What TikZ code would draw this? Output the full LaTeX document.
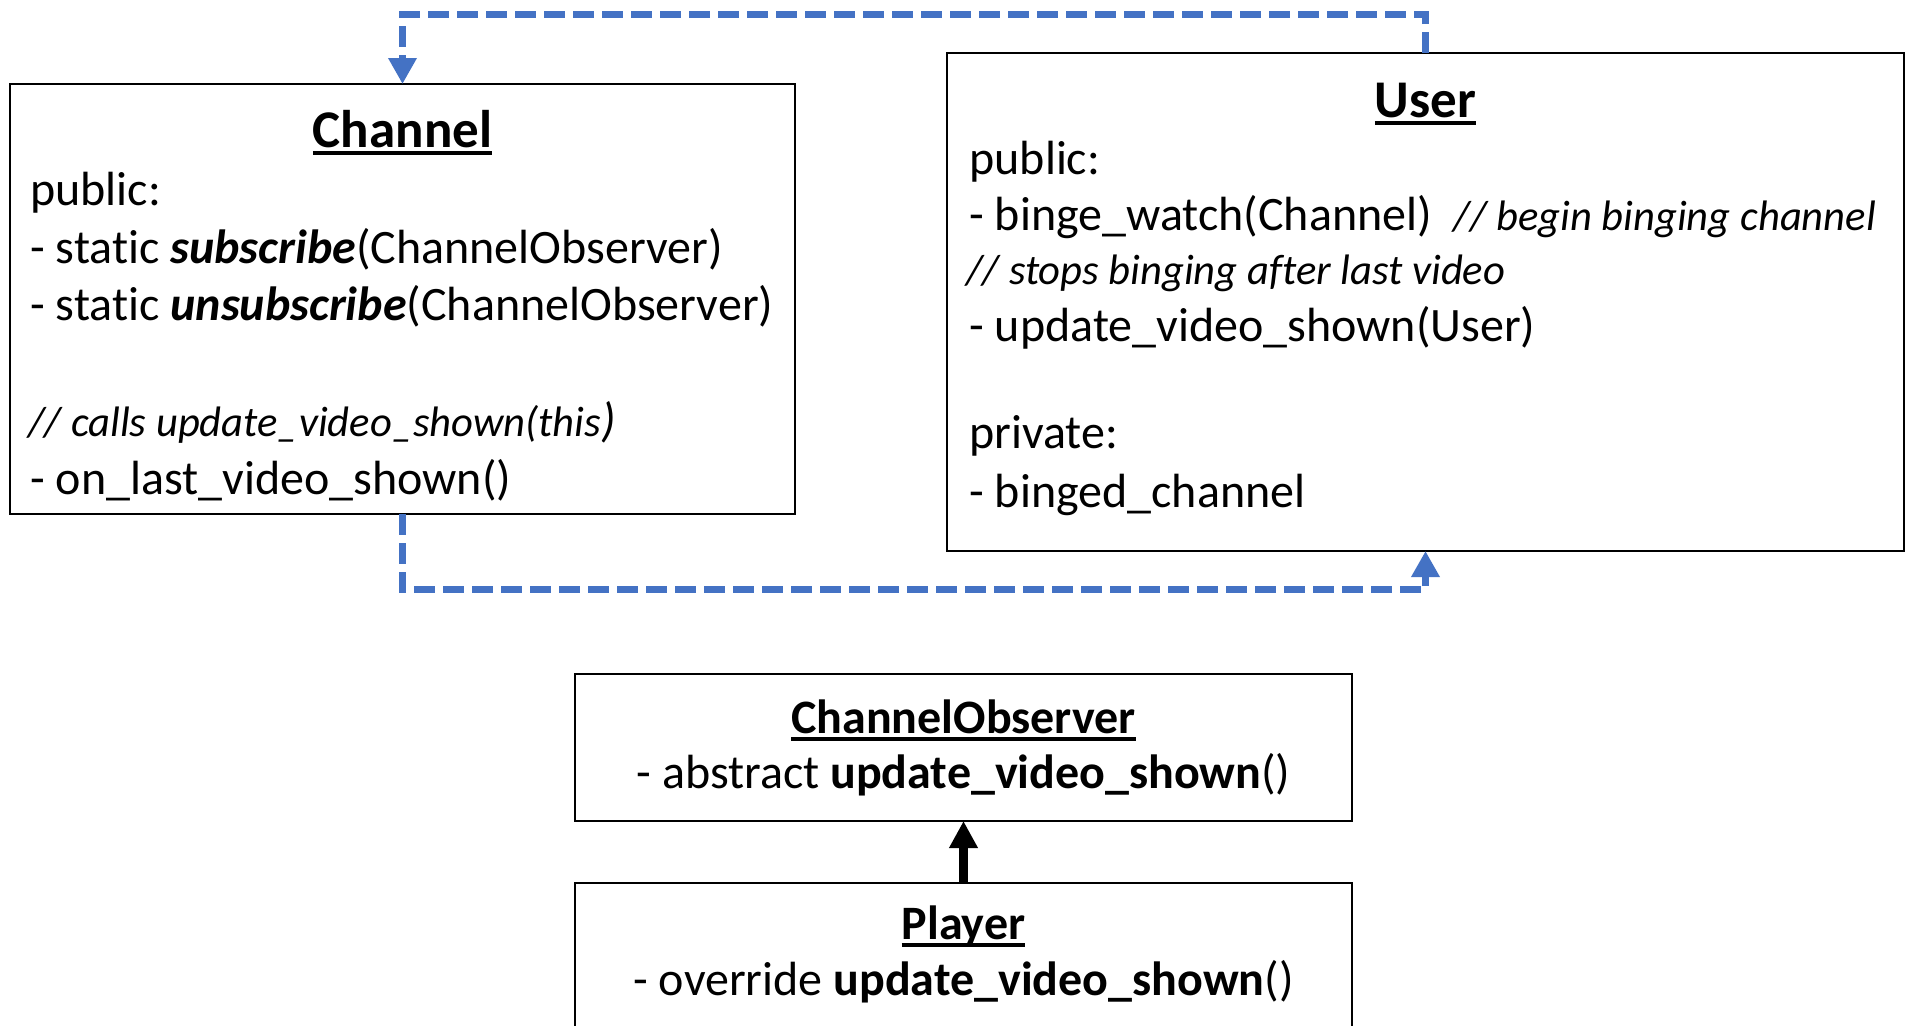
\documentclass[tikz,border=0pt]{standalone}
\usepackage{fontspec}
\setmainfont{Carlito}[Ligatures=NoCommon]
\definecolor{officeblue}{RGB}{68, 114, 196}
\usetikzlibrary{
  arrows.meta,
  calc,
  positioning,
}
\newsavebox{\titlebox}
\newcommand{\classname}[1]{%
  \sbox{\titlebox}{\textbf{#1}}%
  \rlap{\rule[-3.9pt]{\wd\titlebox}{1.9pt}}\usebox{\titlebox}}
\newcommand{\codecomment}[1]{{\fontsize{21.3}{25}\selectfont\itshape #1}}
\tikzset{
  >=Triangle,
  classbox/.style={draw, line width=1.4pt, inner sep=0pt, outer sep=0pt},
  bodyfont/.style={font=\fontsize{24}{28.8}\selectfont},
  memberline/.style={bodyfont, anchor=base west, inner sep=0pt},
  centerline/.style={bodyfont, anchor=base, inner sep=0pt},
  classtitle/.style={anchor=base, inner sep=0pt, font=\fontsize{26.5}{32}\selectfont},
  observes/.style={draw=officeblue, line width=3.7pt,
    dash pattern=on 10.5pt off 4pt, -{Triangle[length=13pt, width=13.5pt]}},
  inherits/.style={line width=4.5pt, -{Triangle[length=13.5pt, width=13.5pt]}},
}

\begin{document}
\begin{tikzpicture}[x=0.5pt, y=-0.5pt]
  \useasboundingbox (0,0) rectangle (1907,1025);
  \clip (0,0) rectangle (1907,1025);

  % class boxes
  \node [classbox, minimum width=392.5pt, minimum height=215pt]
        (channel) at (402.5,299) {};
  \node [classbox, minimum width=478.5pt, minimum height=249pt]
        (user) at (1425.5,302) {};
  \node [classbox, minimum width=388.5pt, minimum height=73.5pt]
        (observer) at (963.5,747.5) {};
  \node [classbox, minimum width=388.5pt, minimum height=83.5pt]
        (player) at (963.5,966.5) {};

  % Channel
  \node [classtitle] (ch-title) at (402.5,147) {\classname{Channel}};
  \node [memberline] (ch-public) at (30,205) {public:};
  \node [memberline] (ch-sub) at (30,263)
        {- static \textbf{\textit{subscribe}}(ChannelObserver)};
  \node [memberline] (ch-unsub) at (30,320)
        {- static \textbf{\textit{unsubscribe}}(ChannelObserver)};
  \node [memberline] (ch-note) at (28,436)
        {\codecomment{// calls update\_video\_shown(this}\textit{)}};
  \node [memberline] (ch-last) at (30,494) {- on\_last\_video\_shown()};

  % User
  \node [classtitle] (us-title) at (1425.5,117) {\classname{User}};
  \node [memberline] (us-public) at (969,174) {public:};
  \node [memberline] (us-binge) at (969,230)
        {- binge\_watch(Channel)\ \ \codecomment{// begin binging channel}};
  \node [memberline] (us-note) at (966,284)
        {\codecomment{// stops binging after last video}};
  \node [memberline] (us-update) at (969,341) {- update\_video\_shown(User)};
  \node [memberline] (us-private) at (969,448) {private:};
  \node [memberline] (us-binged) at (969,507) {- binged\_channel};

  % ChannelObserver and Player
  \node [centerline] (ob-title) at (963.5,733) {\classname{ChannelObserver}};
  \node [centerline] (ob-method) at (963.5,788)
        {- abstract \textbf{update\_video\_shown}()};
  \node [centerline] (pl-title) at (963.5,939) {\classname{Player}};
  \node [centerline] (pl-method) at (963.5,995)
        {- override \textbf{update\_video\_shown}()};

  % connectors
  \coordinate (topline) at (0,14.7);
  \coordinate (botline) at (0,589.5);
  \draw [observes] (user.north) -- (user.north |- topline) -| (channel.north);
  \draw [observes] (channel.south) -- (channel.south |- botline) -| (user.south);
  \draw [inherits] (player.north) -- (observer.south);
\end{tikzpicture}
\end{document}
